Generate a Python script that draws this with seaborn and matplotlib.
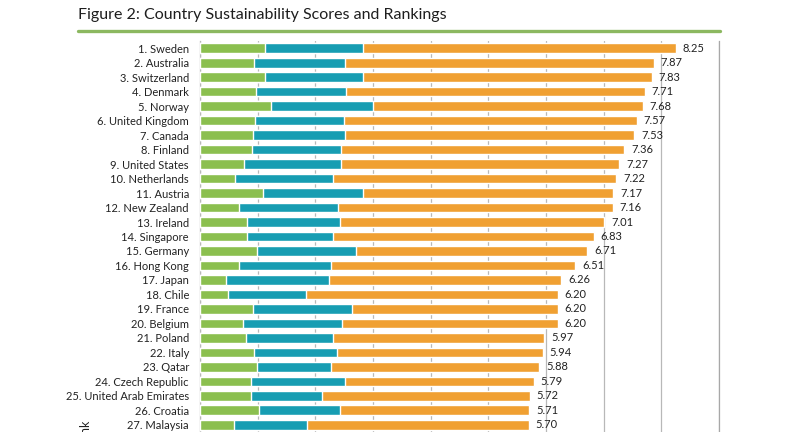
import pandas as pd
import matplotlib.pyplot as plt
import seaborn as sns
from matplotlib.lines import Line2D
from matplotlib.ticker import FixedLocator, NullFormatter

# ----------------------------------------
# Data
# ----------------------------------------
countries = ["Sweden", "Australia", "Switzerland", "Denmark", "Norway",
             "United Kingdom", "Canada", "Finland", "United States", "Netherlands",
             "Austria", "New Zealand", "Ireland", "Singapore", "Germany",
             "Hong Kong", "Japan", "Chile", "France", "Belgium",
             "Poland", "Italy", "Qatar", "Czech Republic", "United Arab Emirates",
             "Croatia", "Malaysia"]
totals = [8.25, 7.87, 7.83, 7.71, 7.68, 7.57, 7.53, 7.36, 7.27, 7.22,
          7.17, 7.16, 7.01, 6.83, 6.71, 6.51, 6.26, 6.20, 6.20, 6.20,
          5.97, 5.94, 5.88, 5.79, 5.72, 5.71, 5.70]
green_part = [1.13, 0.94, 1.13, 0.97, 1.23, 0.96, 0.92, 0.90, 0.77, 0.61,
              1.10, 0.68, 0.82, 0.82, 0.99, 0.68, 0.45, 0.49, 0.92, 0.75,
              0.80, 0.94, 0.99, 0.89, 0.89, 1.03, 0.59]
teal_part = [1.70, 1.58, 1.69, 1.57, 1.77, 1.53, 1.60, 1.55, 1.68, 1.69,
             1.72, 1.72, 1.61, 1.48, 1.71, 1.60, 1.79, 1.34, 1.71, 1.72,
             1.50, 1.44, 1.29, 1.63, 1.23, 1.39, 1.27]

df = pd.DataFrame({
    "label": [f"{i + 1}. {c}" for i, c in enumerate(countries)],
    "total": totals,
    "green": green_part,
    "teal": teal_part,
})
df["green_teal"] = df["green"] + df["teal"]
df["orange"] = df["total"] - df["green_teal"]

GREEN = "#8bbf4f"
TEAL = "#179db2"
ORANGE = "#f0a032"

sns.set_style("white")
plt.rcParams["font.family"] = ["Lato", "DejaVu Sans"]

fig = plt.figure(figsize=(8, 4.32), dpi=100)
ax = fig.add_axes([0.25, 0.0, 0.64875, 391 / 432])

# stacked bars: draw cumulative totals back to front
sns.barplot(data=df, x="total", y="label", color=ORANGE, saturation=1,
            width=0.66, ax=ax, zorder=3)
sns.barplot(data=df, x="green_teal", y="label", color=TEAL, saturation=1,
            width=0.66, ax=ax, zorder=3)
sns.barplot(data=df, x="green", y="label", color=GREEN, saturation=1,
            width=0.66, ax=ax, zorder=3)

for i, v in enumerate(df["total"]):
    ax.annotate(f"{v:.2f}", (v, i), xytext=(5, 0), textcoords="offset points",
                va="center", ha="left", fontsize=8, color="#222222", zorder=5)

ax.set_xlim(0, 9)
ax.set_ylim(len(df) - 0.5, -0.5)
ax.set_xticks(range(0, 10))
ax.set_xticklabels([])
ax.tick_params(axis="x", length=0)
ax.grid(axis="x", color="#b8b8b8", linewidth=0.9, zorder=6)
ax.set_axisbelow(False)
ax.set_xlabel("")
ax.set_ylabel("")

# category labels, with small ticks between rows
ax.tick_params(axis="y", which="major", length=0, labelsize=8,
               labelcolor="#222222", pad=8)
ax.yaxis.set_minor_locator(FixedLocator([k + 0.5 for k in range(-1, len(df))]))
ax.yaxis.set_minor_formatter(NullFormatter())
ax.tick_params(axis="y", which="minor", length=4, color="#a0a0a0", width=0.8)

for s in ["top", "bottom"]:
    ax.spines[s].set_visible(False)
for s in ["left", "right"]:
    ax.spines[s].set_color("#a8a8a8")
    ax.spines[s].set_linewidth(0.9)

# title and green rule
fig.text(78 / 800, 1 - 15.5 / 432, "Figure 2: Country Sustainability Scores and Rankings",
         fontsize=11.5, color="#1e1e1e", ha="left", va="center")
fig.add_artist(Line2D([78 / 800, 720 / 800], [1 - 30.5 / 432, 1 - 30.5 / 432],
                      color="#8cb860", linewidth=2.4))

# y-axis title (mostly cropped off at bottom, as in the original)
fig.text(85 / 800, 1 - 419 / 432, "Rank", rotation=90, ha="center", va="top",
         fontsize=9, color="#222222")

fig.savefig("out.png", dpi=100)
